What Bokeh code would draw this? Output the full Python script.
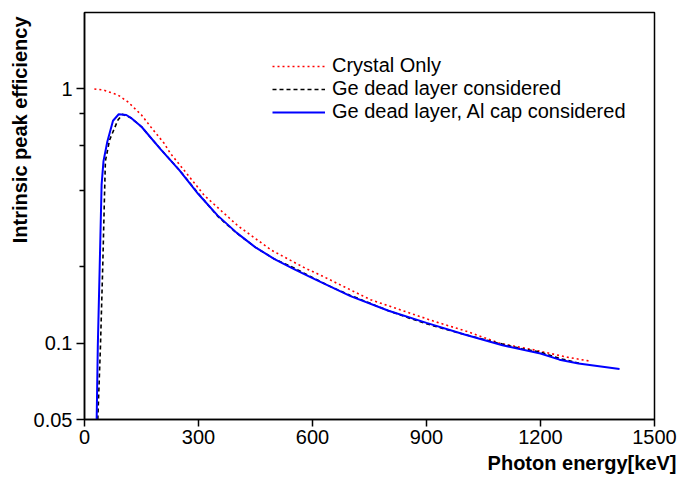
from bokeh.plotting import figure
from bokeh.models import FixedTicker, Legend, LegendItem, Range1d, Title
from bokeh.embed import file_html
from bokeh.resources import INLINE

# Crystal only (red dotted)
energy_crystal = [26, 50, 88, 114, 150, 174, 210, 226, 260, 316, 350, 404, 492,
                  581, 621, 753, 832, 918, 1007, 1095, 1182, 1270, 1327]
eff_crystal = [1.0, 0.99, 0.947, 0.89, 0.79, 0.71, 0.61, 0.558, 0.483, 0.38,
               0.342, 0.289, 0.232, 0.197, 0.185, 0.148, 0.135, 0.122, 0.111,
               0.0995, 0.094, 0.088, 0.085]

# Ge dead layer considered (black dashed)
energy_dead = [35, 42, 48, 53, 55, 66, 88, 100, 122, 150, 200, 250, 300, 350,
               400, 450, 500, 550, 600, 650, 700, 800, 850, 900, 1000, 1100,
               1150, 1200, 1250, 1305]
eff_dead = [0.05, 0.097, 0.2, 0.4, 0.52, 0.63, 0.755, 0.795, 0.77, 0.71, 0.58,
            0.479, 0.387, 0.316, 0.271, 0.238, 0.214, 0.198, 0.181, 0.166,
            0.154, 0.134, 0.126, 0.119, 0.108, 0.099, 0.095, 0.092, 0.087, 0.083]

# Ge dead layer, Al cap considered (blue solid)
energy_cap = [32, 35, 40, 45, 50, 60, 75, 90, 110, 122, 150, 200, 250, 300,
              350, 400, 450, 500, 550, 600, 700, 800, 900, 1000, 1100, 1200,
              1250, 1300, 1408]
eff_cap = [0.05, 0.097, 0.2, 0.42, 0.52, 0.62, 0.75, 0.795, 0.79, 0.77, 0.71,
           0.58, 0.478, 0.385, 0.318, 0.272, 0.238, 0.214, 0.196, 0.18, 0.153,
           0.134, 0.12, 0.108, 0.098, 0.091, 0.086, 0.083, 0.079]

series_labels = ["Crystal Only", "Ge dead layer considered",
                 "Ge dead layer, Al cap considered"]
x_ticks = [0, 300, 600, 900, 1200, 1500]
y_ticks = [0.05, 0.1, 1]
y_minor = [0.2, 0.4, 0.6, 0.8]

FONT = "Liberation Sans"
FS = "20px"

p = figure(width=677, height=483, y_axis_type="log",
           x_range=Range1d(0, 1500), y_range=Range1d(0.05, 2),
           output_backend="svg", toolbar_location=None,
           min_border_left=84, min_border_right=23, min_border_top=12,
           min_border_bottom=64)
p.grid.visible = False
p.outline_line_color = "black"
p.outline_line_width = 1.5
p.background_fill_color = "white"
p.border_fill_color = "white"

r1 = p.line(energy_crystal, eff_crystal, line_color="#ff0000", line_width=1.6,
            line_dash="2 3")
r2 = p.line(energy_dead, eff_dead, line_color="black", line_width=1.6,
            line_dash="4 3")
r3 = p.line(energy_cap, eff_cap, line_color="#0000ff", line_width=2)

# axes styling
for ax in (p.xaxis[0], p.yaxis[0]):
    ax.axis_line_width = 1.5
    ax.axis_line_color = "black"
    ax.major_tick_line_width = 1.5
    ax.minor_tick_line_width = 1.5
    ax.major_label_text_font = FONT
    ax.major_label_text_font_size = FS
    ax.major_label_text_color = "black"
    ax.major_tick_in = 0

p.xaxis.ticker = FixedTicker(ticks=x_ticks)
p.xaxis.major_tick_out = 7
p.xaxis.minor_tick_out = 0
p.xaxis.major_label_standoff = 3

p.yaxis.ticker = FixedTicker(ticks=y_ticks, minor_ticks=y_minor)
p.yaxis.major_tick_out = 8
p.yaxis.minor_tick_out = 5
p.yaxis.minor_tick_in = 0
p.yaxis.major_label_standoff = 4
p.yaxis.major_label_overrides = {0.05: "0.05", 0.1: "0.1", 1: "1"}

# axis titles
p.add_layout(Title(text="Photon energy[keV]", align="right", offset=-22,
                   standoff=6, text_font=FONT, text_font_size=FS,
                   text_font_style="bold", text_color="black"), "below")
p.add_layout(Title(text="Intrinsic peak efficiency", align="right", offset=4,
                   standoff=0, text_font=FONT, text_font_size=FS,
                   text_font_style="bold", text_color="black"), "left")

legend = Legend(items=[LegendItem(label=series_labels[0], renderers=[r1]),
                       LegendItem(label=series_labels[1], renderers=[r2]),
                       LegendItem(label=series_labels[2], renderers=[r3])],
                location=(188, 296), background_fill_alpha=0,
                border_line_color=None, padding=0, margin=0, spacing=0,
                glyph_width=53, glyph_height=22, label_height=22,
                label_standoff=7, label_text_font=FONT,
                label_text_font_size=FS, label_text_color="black")
p.add_layout(legend)

open("out.html", "w").write(file_html(p, INLINE))
